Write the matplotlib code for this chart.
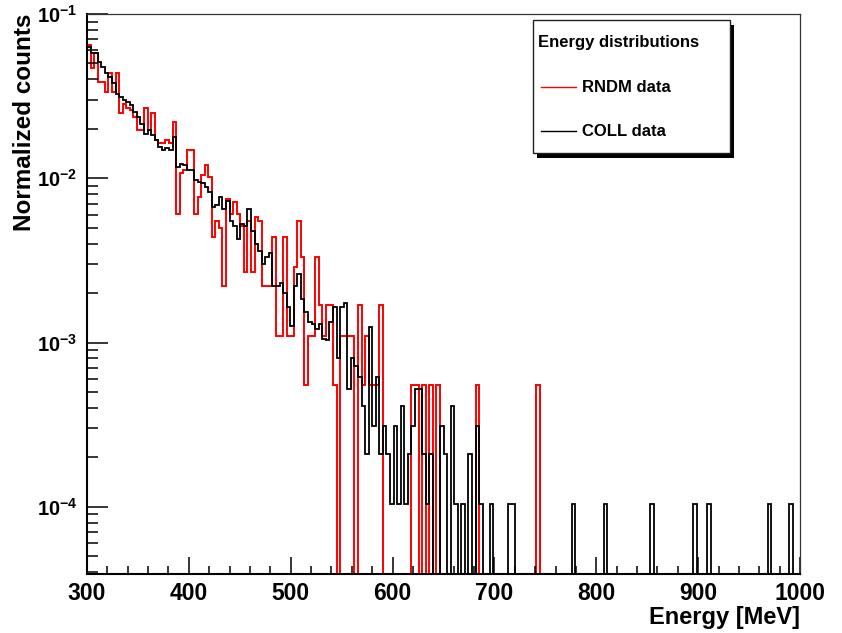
import numpy as np
import matplotlib
matplotlib.use("Agg")
import matplotlib.pyplot as plt
from matplotlib.patches import Rectangle
from matplotlib.lines import Line2D
from matplotlib.ticker import FixedLocator, FuncFormatter, NullFormatter

plt.rcParams['font.family'] = ['Liberation Sans', 'DejaVu Sans']
plt.rcParams['font.weight'] = 'bold'
plt.rcParams['mathtext.fontset'] = 'custom'
plt.rcParams['mathtext.rm'] = 'Liberation Sans:bold'
plt.rcParams['mathtext.bf'] = 'Liberation Sans:bold'
plt.rcParams['mathtext.it'] = 'Liberation Sans:bold'

# histogram binning: 200 bins, 300 - 1000 MeV
e_min, e_max, n_bins = 300.0, 1000.0, 200

# RNDM data, normalized counts per bin
rndm = [
    0.0647, 0.0466, 0.0575, 0.0387, 0.0387, 0.0336, 0.0435, 0.0336, 0.0435, 0.0248,
    0.0285, 0.0266, 0.0260, 0.0237, 0.0196, 0.0196, 0.0266, 0.0196, 0.0248, 0.0171,
    0.0163, 0.0163, 0.0171, 0.0163, 0.0220, 0.0061, 0.0107, 0.0112, 0.0148, 0.0148,
    0.0061, 0.0077, 0.0104, 0.0120, 0.0102, 0.0044, 0.0055, 0.0050, 0.0022, 0.0075,
    0.0061, 0.0072, 0.0061, 0.0051, 0.0027, 0.0055, 0.0027, 0.0058, 0.0055, 0.0022,
    0.0022, 0.0022, 0.0044, 0.0011, 0.0011, 0.0044, 0.0011, 0.0011, 0.0029, 0.0055,
    0.0033, 0.00055, 0.0011, 0.0011, 0.0033, 0.0017, 0.0011, 0.0017, 0.0017, 0.00055,
    0, 0.0011, 0.0011, 0.0011, 0.0011, 0, 0.0017, 0.00055, 0.0011, 0.00055,
    0.00055, 0.00055, 0.0017, 0, 0, 0, 0, 0, 0, 0,
    0, 0.00055, 0.00055, 0, 0.00055, 0, 0.00055, 0, 0.00055, 0,
    0, 0, 0, 0, 0, 0, 0, 0, 0, 0.00055,
    0, 0, 0, 0, 0, 0, 0, 0, 0, 0,
    0, 0, 0, 0, 0, 0, 0.00055, 0, 0, 0,
    0, 0, 0, 0, 0, 0, 0, 0, 0, 0,
    0, 0, 0, 0, 0, 0, 0, 0, 0, 0,
    0, 0, 0, 0, 0, 0, 0, 0, 0, 0,
    0, 0, 0, 0, 0, 0, 0, 0, 0, 0,
    0, 0, 0, 0, 0, 0, 0, 0, 0, 0,
    0, 0, 0, 0, 0, 0, 0, 0, 0, 0,
    0, 0, 0, 0, 0, 0, 0, 0, 0, 0,
]

# COLL data, normalized counts per bin
coll = [
    0.0632, 0.0581, 0.0575, 0.0512, 0.0477, 0.0435, 0.0415, 0.0378, 0.0328, 0.0313,
    0.0299, 0.0292, 0.0279, 0.0254, 0.0237, 0.0215, 0.0187, 0.0196, 0.0183, 0.0171,
    0.0155, 0.0148, 0.0152, 0.0148, 0.0179, 0.0117, 0.0123, 0.0120, 0.0112, 0.0112,
    0.0097, 0.0095, 0.0093, 0.0088, 0.0083, 0.0067, 0.0069, 0.0077, 0.0065, 0.0073,
    0.0055, 0.0051, 0.0043, 0.0053, 0.0051, 0.0065, 0.0048, 0.0040, 0.0036, 0.0030,
    0.0033, 0.0035, 0.0022, 0.0022, 0.0023, 0.0020, 0.00164, 0.00127, 0.0022, 0.0026,
    0.00185, 0.00153, 0.00133, 0.0013, 0.00121, 0.0013, 0.00105, 0.00103, 0.00133, 0.00164,
    0.00081, 0.00164, 0.00174, 0.00052, 0.00081, 0.00072, 0.00062, 0.00041, 0.00021, 0.00124,
    0.00031, 0.00062, 0.00021, 0.00031, 0.00021, 0.000104, 0.00031, 0.000104, 0.00041, 0.000104,
    0.00021, 0.00031, 0.00052, 0.00052, 0.00021, 0.000104, 0.00021, 0, 0, 0.00031,
    0.00021, 0, 0.00041, 0.000104, 0, 0.000104, 0, 0.00021, 0, 0.00031,
    0.000104, 0, 0, 0.000104, 0, 0, 0, 0, 0.000104, 0.000104,
    0, 0, 0, 0, 0, 0, 0, 0, 0, 0,
    0, 0, 0, 0, 0, 0, 0.000104, 0, 0, 0,
    0, 0, 0, 0, 0, 0.000104, 0, 0, 0, 0,
    0, 0, 0, 0, 0, 0, 0, 0, 0.000104, 0,
    0, 0, 0, 0, 0, 0, 0, 0, 0, 0,
    0.000104, 0, 0, 0, 0.000104, 0, 0, 0, 0, 0,
    0, 0, 0, 0, 0, 0, 0, 0, 0, 0,
    0, 0.000104, 0, 0, 0, 0, 0, 0.000104, 0, 0,
]

y_min, y_max = 3.93e-5, 0.1

edges = np.linspace(e_min, e_max, n_bins + 1)
# empty bins are drawn along the bottom of the frame, as ROOT does
rndm_draw = np.clip(np.array(rndm), y_min, None)
coll_draw = np.clip(np.array(coll), y_min, None)

fig = plt.figure(figsize=(8.42, 6.33), dpi=100)
ax = fig.add_axes([87/842, 1 - 573.5/633, (800 - 87)/842, (573.5 - 14)/633])

ax.stairs(rndm_draw, edges, baseline=None, color='#ff0000', lw=1.4)
ax.stairs(coll_draw, edges, baseline=None, color='black', lw=1.3)

ax.set_yscale('log')
ax.set_xlim(e_min, e_max)
ax.set_ylim(y_min, y_max)

ax.xaxis.set_major_locator(FixedLocator(np.arange(300, 1001, 100)))
ax.xaxis.set_minor_locator(FixedLocator(np.arange(300, 1001, 20)))
ax.yaxis.set_major_locator(FixedLocator([1e-4, 1e-3, 1e-2, 1e-1]))
minors = [m * 10.0**d for d in range(-5, -1) for m in range(2, 10)]
ax.yaxis.set_minor_locator(FixedLocator(minors))
ax.yaxis.set_major_formatter(FuncFormatter(lambda v, p: r'$10^{%d}$' % int(round(np.log10(v)))))
ax.yaxis.set_minor_formatter(NullFormatter())

ax.tick_params(axis='both', which='both', direction='in', top=False, right=False,
               width=1.1, colors='black')
ax.tick_params(axis='x', which='major', length=12, pad=6, labelsize=16.5)
ax.tick_params(axis='x', which='minor', length=6)
ax.tick_params(axis='y', which='major', length=15, pad=7, labelsize=14.5)
ax.tick_params(axis='y', which='minor', length=8)
for lbl in ax.get_xticklabels() + ax.get_yticklabels():
    lbl.set_fontweight('bold')

for side in ['left', 'bottom']:
    ax.spines[side].set_linewidth(1.5)
for side in ['top', 'right']:
    ax.spines[side].set_linewidth(0.9)
    ax.spines[side].set_color('#333333')

ax.set_xlabel('Energy [MeV]', fontsize=17, fontweight='bold', loc='right', labelpad=1)
ax.set_ylabel('Normalized counts', fontsize=17.5, fontweight='bold', loc='top')
ax.yaxis.set_label_coords(-0.071, 1.0)

# legend box with ROOT style shadow
bx0, bx1 = 533/842, 730/842
by0, by1 = 1 - 153/633, 1 - 20/633
sdx, sdy = 4/842, 5/633
fig.patches.append(Rectangle((bx0 + sdx, by0 - sdy), bx1 - bx0, by1 - by0,
                             transform=fig.transFigure, facecolor='black',
                             edgecolor='black', lw=0, zorder=5))
fig.patches.append(Rectangle((bx0, by0), bx1 - bx0, by1 - by0,
                             transform=fig.transFigure, facecolor='white',
                             edgecolor='#222222', lw=1.0, zorder=6))
fig.text(538/842, 1 - 42/633, 'Energy distributions', fontsize=12,
         fontweight='bold', va='center', ha='left', zorder=7)
entries = [('RNDM data', '#ff0000', 87), ('COLL data', 'black', 131)]
for name, col, ypix in entries:
    yf = 1 - ypix/633
    fig.lines.append(Line2D([541/842, 576/842], [yf, yf], transform=fig.transFigure,
                            color=col, lw=1.0, zorder=7))
    fig.text(582/842, yf, name, fontsize=12, fontweight='bold',
             va='center', ha='left', zorder=7)

fig.savefig('out.png', dpi=100)
